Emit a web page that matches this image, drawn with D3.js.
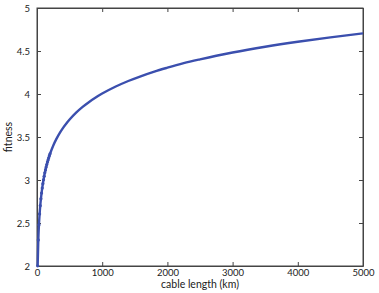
<!DOCTYPE html>
<html><head><meta charset="utf-8">
<script src="https://cdn.jsdelivr.net/npm/d3@7"></script>
<style>body{margin:0;background:#fff}svg{display:block}text{font-family:Lato,"Open Sans",sans-serif;fill:#222}</style>
</head><body><svg id="c" width="379" height="293"></svg>
<script>
const cableKm = [10,20,30,40,50,60,70,80,90,100,110,120,130,140,150,160,170,180,190,200,250,300,350,400,450,500,600,700,800,900,1000,1200,1400,1600,1800,2000,2250,2500,2750,3000,3500,4000,4500,5000];
const fitness = [2.002,2.303,2.479,2.605,2.702,2.781,2.848,2.906,2.957,3.003,3.045,3.083,3.117,3.150,3.180,3.208,3.234,3.259,3.283,3.305,3.402,3.481,3.548,3.606,3.657,3.703,3.783,3.850,3.908,3.959,4.005,4.084,4.151,4.209,4.261,4.306,4.358,4.403,4.445,4.483,4.550,4.608,4.659,4.705];
const xTicks = [0,1000,2000,3000,4000,5000];
const yTicks = [2,2.5,3,3.5,4,4.5,5];

const svg = d3.select("#c");
const L=37,R=363,T=8,B=266;
const x = d3.scaleLinear().domain([0,5000]).range([L,R]);
const y = d3.scaleLinear().domain([2,5]).range([B,T]);
const data = cableKm.map((k,i)=>({k,v:fitness[i]}));
const col="#3b4fae", ax="#444";

const gx = svg.append("g").attr("transform",`translate(0,${B})`)
  .call(d3.axisBottom(x).tickValues(xTicks).tickFormat(d3.format("d")).tickSizeInner(-4).tickSizeOuter(0).tickPadding(3));
const gy = svg.append("g").attr("transform",`translate(${L},0)`)
  .call(d3.axisLeft(y).tickValues(yTicks).tickFormat(d=>String(d)).tickSizeInner(-4).tickSizeOuter(0).tickPadding(7));
const gt = svg.append("g").attr("transform",`translate(0,${T})`)
  .call(d3.axisTop(x).tickValues(xTicks).tickFormat("").tickSizeInner(-4).tickSizeOuter(0));
const gr = svg.append("g").attr("transform",`translate(${R},0)`)
  .call(d3.axisRight(y).tickValues(yTicks).tickFormat("").tickSizeInner(-4).tickSizeOuter(0));
[gx,gy,gt,gr].forEach(g=>{g.selectAll("path").attr("stroke",ax);g.selectAll("line").attr("stroke",ax);
  g.selectAll("text").attr("font-size",9.5).attr("fill","#222").attr("font-family","Lato,'Open Sans',sans-serif");});
svg.append("rect").attr("x",L).attr("y",T).attr("width",R-L).attr("height",B-T).attr("fill","none").attr("stroke",ax).attr("stroke-width",1);

svg.append("path").datum(data).attr("fill","none").attr("stroke",col).attr("stroke-width",2.4)
  .attr("d",d3.line().x(d=>x(d.k)).y(d=>y(d.v)).curve(d3.curveMonotoneX));
svg.append("g").selectAll("circle").data(data.filter(d=>d.k<=200)).join("circle")
  .attr("cx",d=>x(d.k)).attr("cy",d=>y(d.v)).attr("r",1.6).attr("fill",col);

svg.append("text").attr("x",(L+R)/2).attr("y",288).attr("text-anchor","middle").attr("font-size",10.5).text("cable length (km)");
svg.append("text").attr("transform",`translate(12,${(T+B)/2}) rotate(-90)`).attr("text-anchor","middle").attr("font-size",10.5).text("fitness");
</script></body></html>
